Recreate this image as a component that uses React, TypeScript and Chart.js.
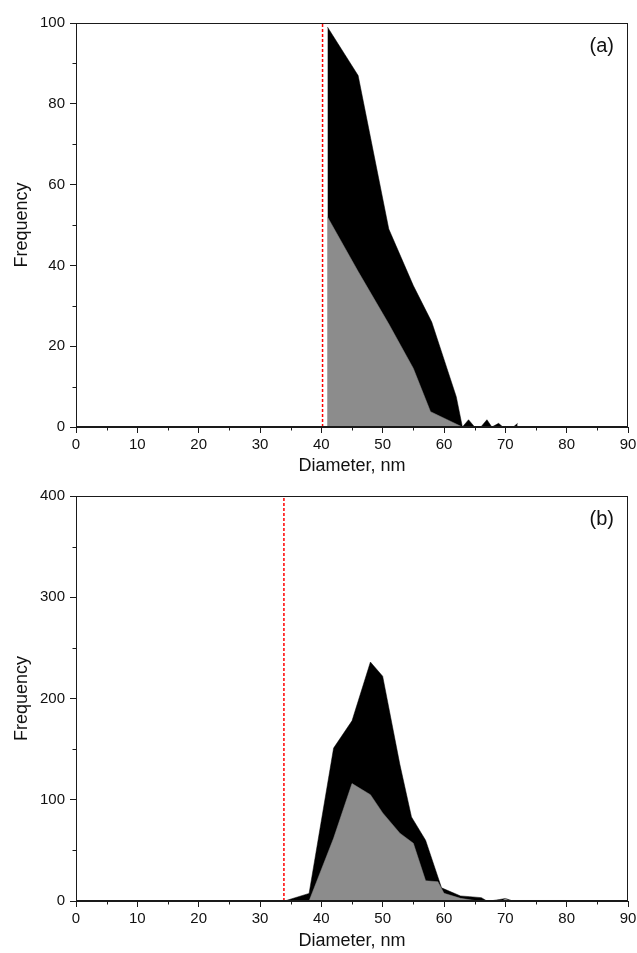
import React, { useEffect, useRef } from "react";
import { Chart, registerables } from "chart.js";

Chart.register(...registerables);

// ---------- data ----------
const aTotalX = [41, 46, 51, 55, 58, 62, 63, 64, 65, 66, 67, 67.8, 68.9, 69.6, 71.3, 72];
const aTotalY = [99, 87, 49, 35, 26, 7.5, 0, 1.8, 0, 0, 1.8, 0, 0.9, 0, 0, 0.9];
const aGrayX = [41, 46, 51, 55, 57.8, 63];
const aGrayY = [52, 38.5, 25.5, 14.5, 3.8, 0];
const aCutoff = 40.2;

const bTotalX = [34, 38, 42, 45, 48, 50, 52.8, 54.7, 57, 59.6, 62.7, 64.2, 66.1, 67, 68, 69.1, 70, 71, 75, 80, 82];
const bTotalY = [0, 7.5, 151, 178, 236, 222, 135, 83, 60, 13, 5, 4.3, 3.3, 0, 0.5, 1.5, 2.5, 0.5, 0.5, 0.5, 0];
const bGrayX = [38, 42, 45, 48, 50, 52.8, 55, 57, 59, 60, 62.7, 65, 67, 69.5, 70, 70.6];
const bGrayY = [0, 62, 116, 105, 87, 67, 57, 20, 19, 7.6, 2.6, 0.5, 0, 0, 2.5, 0];
const bCutoff = 33.9;

const xMax = 90;
const aYMax = 100;
const bYMax = 400;
const xStep = 10;
const aYStep = 20;
const bYStep = 100;

const FONT = "'Liberation Sans', Arial, Helvetica, sans-serif";
const INK = "#1a1a1a";
const GRAY = "#8c8c8c";

const zip = (xs: number[], ys: number[]) => xs.map((x, i) => ({ x, y: ys[i] }));

const framePlugin = {
  id: "frameTicks",
  afterDraw(chart: any) {
    const { ctx, chartArea: a, scales } = chart;
    const o = chart.options.plugins.frameTicks;
    ctx.save();
    ctx.strokeStyle = INK;
    ctx.lineWidth = 1;
    ctx.strokeRect(Math.round(a.left) + 0.5, Math.round(a.top) + 0.5, Math.round(a.right - a.left) - 1, Math.round(a.bottom - a.top) - 1);
    // minor ticks
    ctx.beginPath();
    const xs = scales.x;
    for (let v = o.xMinor; v < xs.max; v += o.xMinor * 2) {
      const px = Math.round(xs.getPixelForValue(v)) + 0.5;
      ctx.moveTo(px, a.bottom);
      ctx.lineTo(px, a.bottom + 3.5);
    }
    const ys = scales.y;
    for (let v = o.yMinor; v < ys.max; v += o.yMinor * 2) {
      const py = Math.round(ys.getPixelForValue(v)) + 0.5;
      ctx.moveTo(a.left, py);
      ctx.lineTo(a.left - 3.5, py);
    }
    ctx.stroke();
    ctx.fillStyle = "#111";
    ctx.font = `20px ${FONT}`;
    ctx.textAlign = "right";
    ctx.textBaseline = "middle";
    ctx.fillText(o.label, a.right - 14, a.top + 23);
    ctx.restore();
  },
};

function makeConfig(
  totalX: number[], totalY: number[], grayX: number[], grayY: number[],
  cutoff: number, yMax: number, yStep: number, label: string, xAxisH: number
): any {
  return {
    type: "line",
    data: {
      datasets: [
        {
          data: [{ x: cutoff, y: 0 }, { x: cutoff, y: yMax }],
          borderColor: "#ff0000",
          borderWidth: 1.5,
          borderDash: [3, 2],
          pointRadius: 0,
          fill: false,
          order: 0,
        },
        {
          data: zip(grayX, grayY),
          borderColor: GRAY,
          backgroundColor: GRAY,
          borderWidth: 0.5,
          pointRadius: 0,
          fill: "origin",
          tension: 0,
          order: 1,
        },
        {
          data: zip(totalX, totalY),
          borderColor: "#000",
          backgroundColor: "#000",
          borderWidth: 0.5,
          pointRadius: 0,
          fill: "origin",
          tension: 0,
          order: 2,
        },
      ],
    },
    options: {
      responsive: false,
      animation: false,
      events: [],
      layout: { padding: { left: 0, right: 9, top: 0, bottom: 0 } },
      plugins: {
        legend: { display: false },
        tooltip: { enabled: false },
        frameTicks: { xMinor: xStep / 2, yMinor: yStep / 2, label },
      },
      scales: {
        x: {
          type: "linear",
          min: 0,
          max: xMax,
          afterFit: (s: any) => { s.height = xAxisH; s.paddingRight = 0; s.paddingLeft = 0; },
          ticks: { stepSize: xStep, autoSkip: false, maxRotation: 0, color: "#111", font: { family: FONT, size: 15 }, padding: 3 },
          grid: { display: true, drawOnChartArea: false, drawTicks: true, tickLength: 6, color: INK, lineWidth: 1 },
          border: { display: true, color: INK, width: 1 },
          title: { display: true, text: "Diameter, nm", color: "#111", font: { family: FONT, size: 18 }, padding: { top: 0, bottom: 1 } },
        },
        y: {
          type: "linear",
          min: 0,
          max: yMax,
          afterFit: (s: any) => { s.width = 76; s.paddingTop = 0; s.paddingBottom = 0; },
          ticks: { stepSize: yStep, autoSkip: false, color: "#111", font: { family: FONT, size: 15 }, padding: 5 },
          grid: { display: true, drawOnChartArea: false, drawTicks: true, tickLength: 6, color: INK, lineWidth: 1 },
          border: { display: true, color: INK, width: 1 },
          title: { display: true, text: "Frequency", color: "#111", font: { family: FONT, size: 18 }, padding: { top: 11, bottom: 0 } },
        },
      },
    },
    plugins: [framePlugin],
  };
}

function Panel(props: { top: number; height: number; padTop: number; cfg: () => any }) {
  const ref = useRef<HTMLCanvasElement | null>(null);
  useEffect(() => {
    if (!ref.current) return;
    const cfg = props.cfg();
    cfg.options.layout.padding.top = props.padTop;
    const chart = new Chart(ref.current, cfg);
    return () => chart.destroy();
  }, []);
  return (
    <canvas
      ref={ref}
      width={637}
      height={props.height}
      style={{ position: "absolute", left: 0, top: props.top, width: 637, height: props.height }}
    />
  );
}

export default function App() {
  return (
    <div style={{ position: "absolute", left: 0, top: 0, width: 637, height: 953, background: "#fff" }}>
      <Panel
        top={0}
        height={478}
        padTop={23}
        cfg={() => makeConfig(aTotalX, aTotalY, aGrayX, aGrayY, aCutoff, aYMax, aYStep, "(a)", 51)}
      />
      <Panel
        top={478}
        height={475}
        padTop={18}
        cfg={() => makeConfig(bTotalX, bTotalY, bGrayX, bGrayY, bCutoff, bYMax, bYStep, "(b)", 52)}
      />
    </div>
  );
}
